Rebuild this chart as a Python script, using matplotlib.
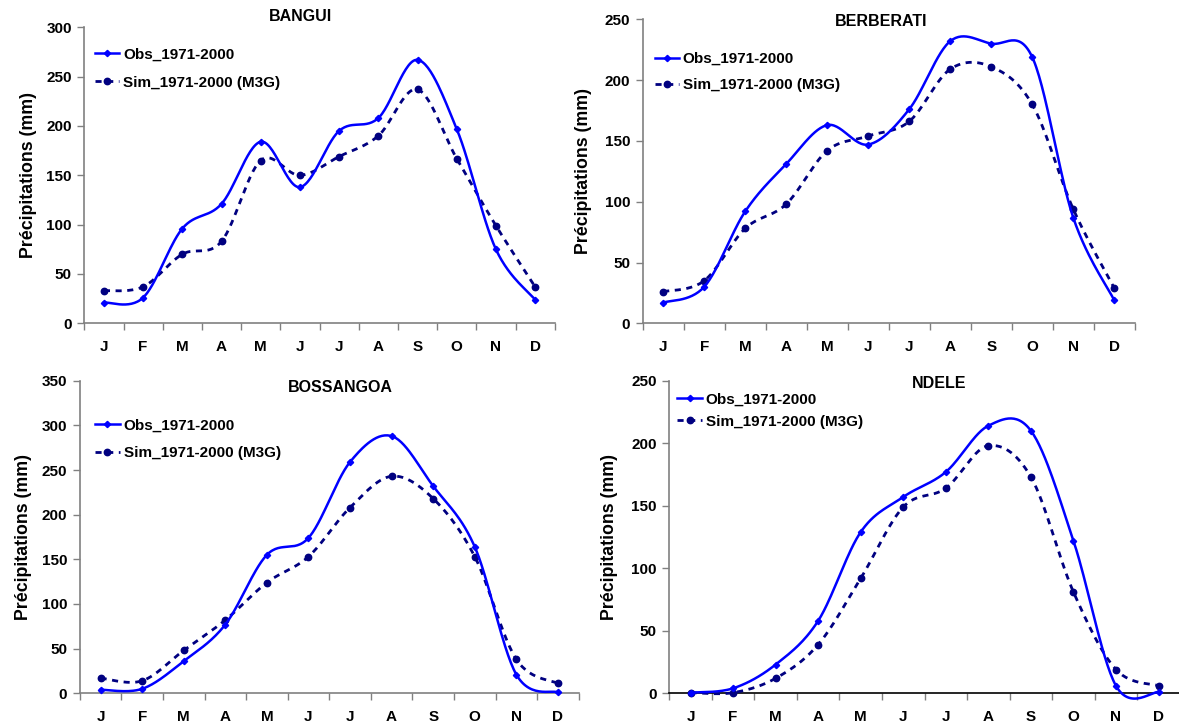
import numpy as np
import matplotlib
matplotlib.use("Agg")
import matplotlib.pyplot as plt
from matplotlib.lines import Line2D

plt.rcParams['font.family'] = ['Liberation Sans', 'DejaVu Sans']
plt.rcParams['font.weight'] = 'bold'

months = ["J", "F", "M", "A", "M", "J", "J", "A", "S", "O", "N", "D"]

stations = ["BANGUI", "BERBERATI", "BOSSANGOA", "NDELE"]

obs_bangui = [21, 26, 96, 121, 184, 138, 195, 208, 267, 197, 75, 24]
sim_bangui = [33, 37, 70, 83, 165, 150, 169, 190, 237, 167, 99, 37]

obs_berberati = [17, 30, 92, 131, 163, 147, 176, 232, 230, 219, 87, 19]
sim_berberati = [26, 35, 78, 98, 142, 154, 166, 209, 211, 180, 94, 29]

obs_bossangoa = [4, 5, 36, 77, 155, 174, 259, 288, 232, 164, 21, 1]
sim_bossangoa = [17, 14, 48, 82, 124, 153, 208, 243, 218, 153, 38, 11]

obs_ndele = [0.5, 4, 23, 58, 129, 157, 177, 214, 210, 122, 6, 1]
sim_ndele = [0.5, 0.5, 12, 39, 92, 149, 164, 198, 173, 81, 19, 6]

obs_label = "Obs_1971-2000"
sim_label = "Sim_1971-2000 (M3G)"
ylabel = "Précipitations (mm)"

ymax = [300, 250, 350, 250]

# axes rectangles in pixels (left, top, right, bottom)
W, H = 1179, 727
rects_px = [(84.3, 27.3, 554.7, 323.3),
            (642.7, 19.3, 1134.7, 323.3),
            (79.8, 380.7, 578.7, 693.3),
            (669.3, 380.7, 1179.8, 693.3)]
title_pos = [(0.459, 1.036), (0.484, 0.992), (0.522, 0.978), (0.528, 0.99)]
legend_pos = [(0.022, 0.931, 0.92), (0.024, 0.892, 0.78), (0.031, 0.879, 0.9), (0.016, 0.963, 0.56)]
ylabel_x = [-0.101, -0.103, -0.096, -0.100]

OBS_C = "#0000FF"
SIM_C = "#000080"


def smooth(y, n=30):
    """Excel-style smoothed line (Catmull-Rom Bezier) through the data points."""
    x = np.arange(len(y), dtype=float) + 0.5
    y = np.asarray(y, dtype=float)
    xs, ys = [], []
    for i in range(len(y) - 1):
        p0 = (x[i - 1], y[i - 1]) if i > 0 else (x[i], y[i])
        p1 = (x[i], y[i])
        p2 = (x[i + 1], y[i + 1])
        p3 = (x[i + 2], y[i + 2]) if i + 2 < len(y) else (x[i + 1], y[i + 1])
        c1 = (p1[0] + (p2[0] - p0[0]) / 6, p1[1] + (p2[1] - p0[1]) / 6)
        c2 = (p2[0] - (p3[0] - p1[0]) / 6, p2[1] - (p3[1] - p1[1]) / 6)
        t = np.linspace(0, 1, n, endpoint=(i == len(y) - 2))
        bx = (1 - t) ** 3 * p1[0] + 3 * (1 - t) ** 2 * t * c1[0] + 3 * (1 - t) * t ** 2 * c2[0] + t ** 3 * p2[0]
        by = (1 - t) ** 3 * p1[1] + 3 * (1 - t) ** 2 * t * c1[1] + 3 * (1 - t) * t ** 2 * c2[1] + t ** 3 * p2[1]
        xs.append(bx)
        ys.append(by)
    return np.concatenate(xs), np.concatenate(ys)


obs_all = [obs_bangui, obs_berberati, obs_bossangoa, obs_ndele]
sim_all = [sim_bangui, sim_berberati, sim_bossangoa, sim_ndele]

fig = plt.figure(figsize=(W / 100, H / 100), dpi=100)

SIM_LS = (0, (2.2, 2.0))

for k in range(4):
    l, t, r, b = rects_px[k]
    ax = fig.add_axes([l / W, (H - b) / H, (r - l) / W, (b - t) / H])
    x = np.arange(12) + 0.5
    sx, sy = smooth(sim_all[k])
    ax.plot(sx, sy, color=SIM_C, lw=2.0, ls=SIM_LS, clip_on=False, zorder=3)
    ax.plot(x, sim_all[k], ls='none', marker='o', ms=4.6, color=SIM_C, clip_on=False, zorder=4)
    ox, oy = smooth(obs_all[k])
    ax.plot(ox, oy, color=OBS_C, lw=1.8, clip_on=False, zorder=5)
    ax.plot(x, obs_all[k], ls='none', marker='D', ms=3.2, color=OBS_C, clip_on=False, zorder=6)

    ax.set_xlim(0, 12)
    ax.set_ylim(0, ymax[k])
    ax.set_yticks(np.arange(0, ymax[k] + 1, 50))
    ax.set_xticks(np.arange(0, 13))
    ax.set_xticklabels([])
    ax.set_xticks(x, minor=True)
    ax.set_xticklabels(months, minor=True)
    ax.tick_params(axis='x', which='minor', length=0, pad=12, labelsize=11)
    ax.tick_params(axis='x', which='major', length=5, direction='out', color='#808080', width=1)
    ax.tick_params(axis='y', length=5, direction='out', color='#808080', width=1, labelsize=11, pad=4)
    for s in ['top', 'right']:
        ax.spines[s].set_visible(False)
    for s in ['left', 'bottom']:
        ax.spines[s].set_color('#808080')
        ax.spines[s].set_linewidth(1.2)
    if k == 3:
        ax.spines['bottom'].set_color('#000000')
    for lab in ax.get_xticklabels(minor=True) + ax.get_yticklabels():
        lab.set_fontweight('bold')
    ax.set_facecolor('none')
    ax.set_ylabel(ylabel, fontsize=12.8, fontweight='bold')
    ax.yaxis.set_label_coords(ylabel_x[k], 0.5)
    ax.text(title_pos[k][0], title_pos[k][1], stations[k], transform=ax.transAxes,
            ha='center', va='center', fontsize=11.5, fontweight='bold')

    handles = [Line2D([], [], color=OBS_C, lw=1.8, marker='D', ms=3.2),
               Line2D([], [], color=SIM_C, lw=2.0, ls=SIM_LS, marker='o', ms=4.6)]
    lx, ly, sp = legend_pos[k]
    ax.legend(handles, [obs_label, sim_label], loc='upper left', bbox_to_anchor=(lx, ly),
              frameon=False, borderpad=0, borderaxespad=0, handlelength=1.6, handletextpad=0.25,
              labelspacing=sp, prop={'size': 11, 'weight': 'bold'})

fig.savefig("out.png", dpi=100)
